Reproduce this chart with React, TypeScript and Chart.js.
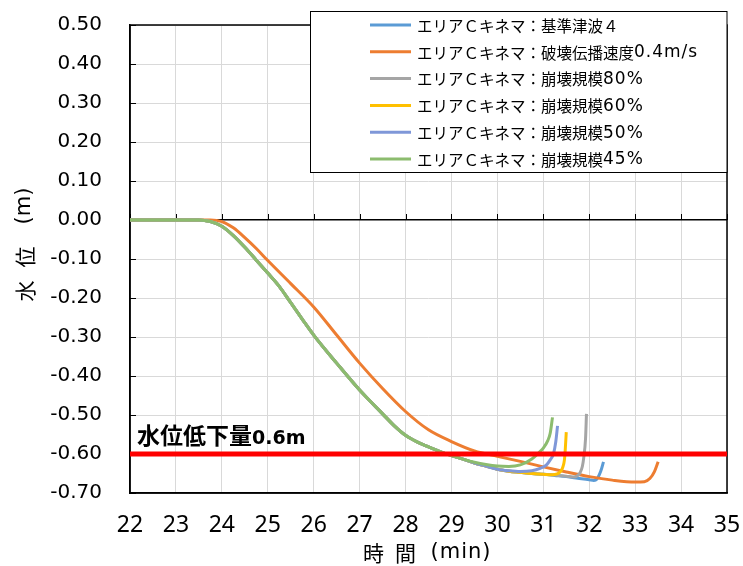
import React, { useEffect, useRef } from "react";
import { Chart, registerables } from "chart.js";
Chart.register(...registerables);

// ---- axis ranges / labels ----
const X_MIN = 22;
const X_MAX = 35;
const Y_MIN = -0.7;
const Y_MAX = 0.5;
const xTitleParts = ["時", "間", "(min)"];
const yTitleParts = ["水", "位", "(m)"];

// ---- series labels / colours ----
const seriesLabels = [
  "エリアＣキネマ：基準津波４",
  "エリアＣキネマ：破壊伝播速度0.4m/s",
  "エリアＣキネマ：崩壊規模80%",
  "エリアＣキネマ：崩壊規模60%",
  "エリアＣキネマ：崩壊規模50%",
  "エリアＣキネマ：崩壊規模45%",
];
const seriesColors = ["#5B9BD5", "#ED7D31", "#A5A5A5", "#FFC000", "#7F97D8", "#8CBC6E"];

// ---- shared early part of the collapse-scale curves (min, m) ----
const baseTime = [22, 23, 23.5, 23.75, 24, 24.25, 24.5, 24.75, 25, 25.25, 25.5, 25.75, 26, 26.5, 27, 27.5, 27.75, 28, 28.25, 28.5, 28.75, 29, 29.25];
const baseLevel = [0, 0, 0, -0.004, -0.016, -0.04, -0.07, -0.103, -0.136, -0.17, -0.212, -0.254, -0.295, -0.367, -0.436, -0.497, -0.527, -0.552, -0.569, -0.582, -0.594, -0.604, -0.613];

// ---- tails ----
const kijunTailTime = [29.5, 29.75, 30, 30.25, 30.5, 30.75, 31, 31.25, 31.5, 31.75, 32, 32.1, 32.17, 32.22, 32.27, 32.31];
const kijunTailLevel = [-0.623, -0.631, -0.639, -0.644, -0.647, -0.65, -0.652, -0.655, -0.658, -0.662, -0.666, -0.668, -0.664, -0.653, -0.637, -0.62];

const scale80TailTime = [29.5, 29.75, 30, 30.25, 30.5, 30.75, 31, 31.25, 31.5, 31.65, 31.75, 31.8, 31.85, 31.88, 31.92, 31.94];
const scale80TailLevel = [-0.623, -0.631, -0.639, -0.644, -0.647, -0.65, -0.652, -0.654, -0.657, -0.659, -0.655, -0.648, -0.632, -0.61, -0.56, -0.497];

const scale60TailTime = [29.5, 29.75, 30, 30.25, 30.5, 30.75, 31, 31.2, 31.3, 31.36, 31.42, 31.46, 31.48, 31.5];
const scale60TailLevel = [-0.623, -0.631, -0.639, -0.644, -0.647, -0.65, -0.652, -0.653, -0.651, -0.647, -0.635, -0.615, -0.585, -0.544];

const scale50TailTime = [29.5, 29.75, 30, 30.25, 30.5, 30.75, 30.93, 31.07, 31.15, 31.22, 31.27, 31.31];
const scale50TailLevel = [-0.623, -0.631, -0.639, -0.643, -0.645, -0.643, -0.637, -0.628, -0.615, -0.6, -0.57, -0.528];

const scale45TailTime = [29.5, 29.75, 30, 30.25, 30.5, 30.75, 30.9, 31, 31.1, 31.15, 31.2];
const scale45TailLevel = [-0.621, -0.627, -0.631, -0.632, -0.628, -0.613, -0.597, -0.585, -0.565, -0.547, -0.506];

// ---- rupture-speed curve (whole) ----
const rupture04Time = [22, 23, 23.75, 24, 24.25, 24.5, 24.75, 25, 25.5, 26, 26.5, 27, 27.5, 28, 28.5, 29, 29.5, 30, 30.5, 31, 31.5, 32, 32.5, 33, 33.2, 33.32, 33.42, 33.5];
const rupture04Level = [0, 0, 0, -0.004, -0.02, -0.045, -0.073, -0.104, -0.163, -0.223, -0.295, -0.367, -0.432, -0.491, -0.538, -0.568, -0.592, -0.606, -0.619, -0.633, -0.646, -0.658, -0.667, -0.672, -0.671, -0.663, -0.645, -0.62];

// ---- threshold ----
const thresholdLevel = -0.6;
const thresholdLabel = "水位低下量0.6m";

const toPoints = (t: number[], v: number[]) => t.map((x, i) => ({ x, y: v[i] }));

const seriesPoints = [
  toPoints([...baseTime, ...kijunTailTime], [...baseLevel, ...kijunTailLevel]),
  toPoints(rupture04Time, rupture04Level),
  toPoints([...baseTime, ...scale80TailTime], [...baseLevel, ...scale80TailLevel]),
  toPoints([...baseTime, ...scale60TailTime], [...baseLevel, ...scale60TailLevel]),
  toPoints([...baseTime, ...scale50TailTime], [...baseLevel, ...scale50TailLevel]),
  toPoints([...baseTime, ...scale45TailTime], [...baseLevel, ...scale45TailLevel]),
];

const CJK = '"Noto Sans CJK JP", "Noto Sans", sans-serif';
const LATIN = '"DejaVu Sans", sans-serif';

function drawMixed(ctx: any, text: string, x: number, y: number, cjkFont: string, latinFont: string, spacing: number) {
  const parts = text.match(/[\x00-\x7F]+|[^\x00-\x7F]+/g) || [];
  let cx = x;
  for (const p of parts) {
    const latin = /^[\x00-\x7F]+$/.test(p);
    ctx.font = latin ? latinFont : cjkFont;
    ctx.letterSpacing = latin ? `${spacing}px` : "0px";
    ctx.fillText(p, cx, y);
    cx += ctx.measureText(p).width;
  }
  ctx.letterSpacing = "0px";
}

const decorPlugin = {
  id: "decor",
  beforeDatasetsDraw(chart: any) {
    const { ctx, chartArea: a, scales } = chart;
    const xs = scales.x;
    const ys = scales.y;
    ctx.save();
    ctx.strokeStyle = "#000";
    ctx.lineWidth = 1;
    const y0 = ys.getPixelForValue(0);
    for (let v = X_MIN; v <= X_MAX; v++) {
      const px = Math.round(xs.getPixelForValue(v)) + 0.5;
      ctx.beginPath();
      ctx.moveTo(px, y0);
      ctx.lineTo(px, y0 - 6);
      ctx.stroke();
    }
    for (let i = 0; i <= 12; i++) {
      const py = Math.round(ys.getPixelForValue(Y_MIN + i * 0.1)) + 0.5;
      ctx.beginPath();
      ctx.moveTo(a.left, py);
      ctx.lineTo(a.left + 6, py);
      ctx.stroke();
    }
    ctx.lineWidth = 1.5;
    ctx.strokeRect(a.left, a.top, a.right - a.left, a.bottom - a.top);
    ctx.restore();
  },
  afterDraw(chart: any) {
    const { ctx, chartArea: a, scales } = chart;
    const xs = scales.x;
    const ys = scales.y;
    ctx.save();
    ctx.fillStyle = "#000";

    // threshold label
    ctx.textAlign = "left";
    ctx.textBaseline = "alphabetic";
    drawMixed(ctx, thresholdLabel, xs.getPixelForValue(X_MIN) + 7, ys.getPixelForValue(thresholdLevel) - 10,
      `bold 23px ${CJK}`, `bold 19px ${LATIN}`, 0);

    // x title
    ctx.textAlign = "center";
    ctx.textBaseline = "middle";
    const xMid = (a.left + a.right) / 2;
    const xTitleOffsets = [-55, -23, 32.5];
    xTitleParts.forEach((p, i) => {
      const latin = /^[\x00-\x7F]+$/.test(p);
      ctx.font = latin ? `21px ${LATIN}` : `21px ${CJK}`;
      ctx.letterSpacing = latin ? "1px" : "0px";
      ctx.fillText(p, xMid + xTitleOffsets[i], 553);
    });
    ctx.letterSpacing = "0px";

    // y title (rotated)
    const yTitleCenters = [291, 257, 206];
    yTitleParts.forEach((p, i) => {
      const latin = /^[\x00-\x7F]+$/.test(p);
      ctx.save();
      ctx.translate(25, yTitleCenters[i]);
      ctx.rotate(-Math.PI / 2);
      ctx.font = latin ? `21px ${LATIN}` : `21px ${CJK}`;
      ctx.fillText(p, 0, 0);
      ctx.restore();
    });

    // legend box
    const bx = 310.5, by = 11.5, bw = a.right - 310.5, bh = 161;
    ctx.fillStyle = "#fff";
    ctx.fillRect(bx, by, bw, bh);
    ctx.strokeStyle = "#000";
    ctx.lineWidth = 1;
    ctx.strokeRect(bx, by, bw, bh);
    ctx.textAlign = "left";
    ctx.textBaseline = "middle";
    seriesLabels.forEach((label, i) => {
      const ry = 25 + i * 26.8;
      ctx.strokeStyle = seriesColors[i];
      ctx.lineWidth = 3;
      ctx.beginPath();
      ctx.moveTo(370, ry);
      ctx.lineTo(411, ry);
      ctx.stroke();
      ctx.fillStyle = "#000";
      drawMixed(ctx, label, 417, ry + 1, `15.5px ${CJK}`, `17px ${LATIN}`, 1);
    });
    ctx.restore();
  },
};

export default function App() {
  const canvasRef = useRef<HTMLCanvasElement | null>(null);

  useEffect(() => {
    if (!canvasRef.current) return;
    const drawOrder = [6, 5, 4, 3, 2, 1];
    const datasets: any[] = seriesPoints.map((pts, i) => ({
      label: seriesLabels[i],
      data: pts,
      borderColor: seriesColors[i],
      backgroundColor: seriesColors[i],
      borderWidth: 3,
      pointRadius: 0,
      fill: false,
      cubicInterpolationMode: "monotone",
      order: drawOrder[i],
    }));
    datasets.push({
      label: "threshold",
      data: [
        { x: X_MIN, y: thresholdLevel },
        { x: X_MAX, y: thresholdLevel },
      ],
      borderColor: "#FF0000",
      borderWidth: 5,
      pointRadius: 0,
      fill: false,
      order: 0,
    });

    const chart = new Chart(canvasRef.current, {
      type: "line",
      data: { datasets },
      plugins: [decorPlugin],
      options: {
        animation: false,
        responsive: false,
        maintainAspectRatio: false,
        layout: { padding: { left: 0, top: 25, right: 16, bottom: 0 } },
        plugins: { legend: { display: false }, tooltip: { enabled: false } },
        scales: {
          x: {
            type: "linear",
            min: X_MIN,
            max: X_MAX,
            ticks: {
              stepSize: 1,
              color: "#000",
              font: { family: '"Noto Sans", sans-serif', size: 23 },
              padding: 0,
              maxRotation: 0,
            },
            grid: { color: "#d9d9d9", drawTicks: true, tickLength: 19, tickColor: "rgba(0,0,0,0)" },
            border: { color: "#000", width: 1.5 },
            afterFit: (s: any) => {
              s.height = 73;
            },
          },
          y: {
            type: "linear",
            min: Y_MIN,
            max: Y_MAX,
            ticks: {
              stepSize: 0.1,
              color: "#000",
              font: { family: LATIN, size: 20 },
              padding: 0,
              callback: (v: any) => (Math.abs(Number(v)) < 1e-9 ? "0.00" : Number(v).toFixed(2)),
            },
            grid: {
              color: (c: any) => (c.tick && Math.abs(c.tick.value) < 1e-9 ? "#000" : "#d9d9d9"),
              lineWidth: (c: any) => (c.tick && Math.abs(c.tick.value) < 1e-9 ? 1.5 : 1),
              drawTicks: true,
              tickLength: 28,
              tickColor: "rgba(0,0,0,0)",
            },
            border: { color: "#000", width: 1.5 },
            afterFit: (s: any) => {
              s.width = 130;
            },
          },
        },
      } as any,
    });
    return () => chart.destroy();
  }, []);

  return (
    <div style={{ position: "fixed", left: 0, top: 0, width: 743, height: 566, background: "#fff" }}>
      <canvas ref={canvasRef} width={743} height={566} style={{ display: "block" }} />
    </div>
  );
}
